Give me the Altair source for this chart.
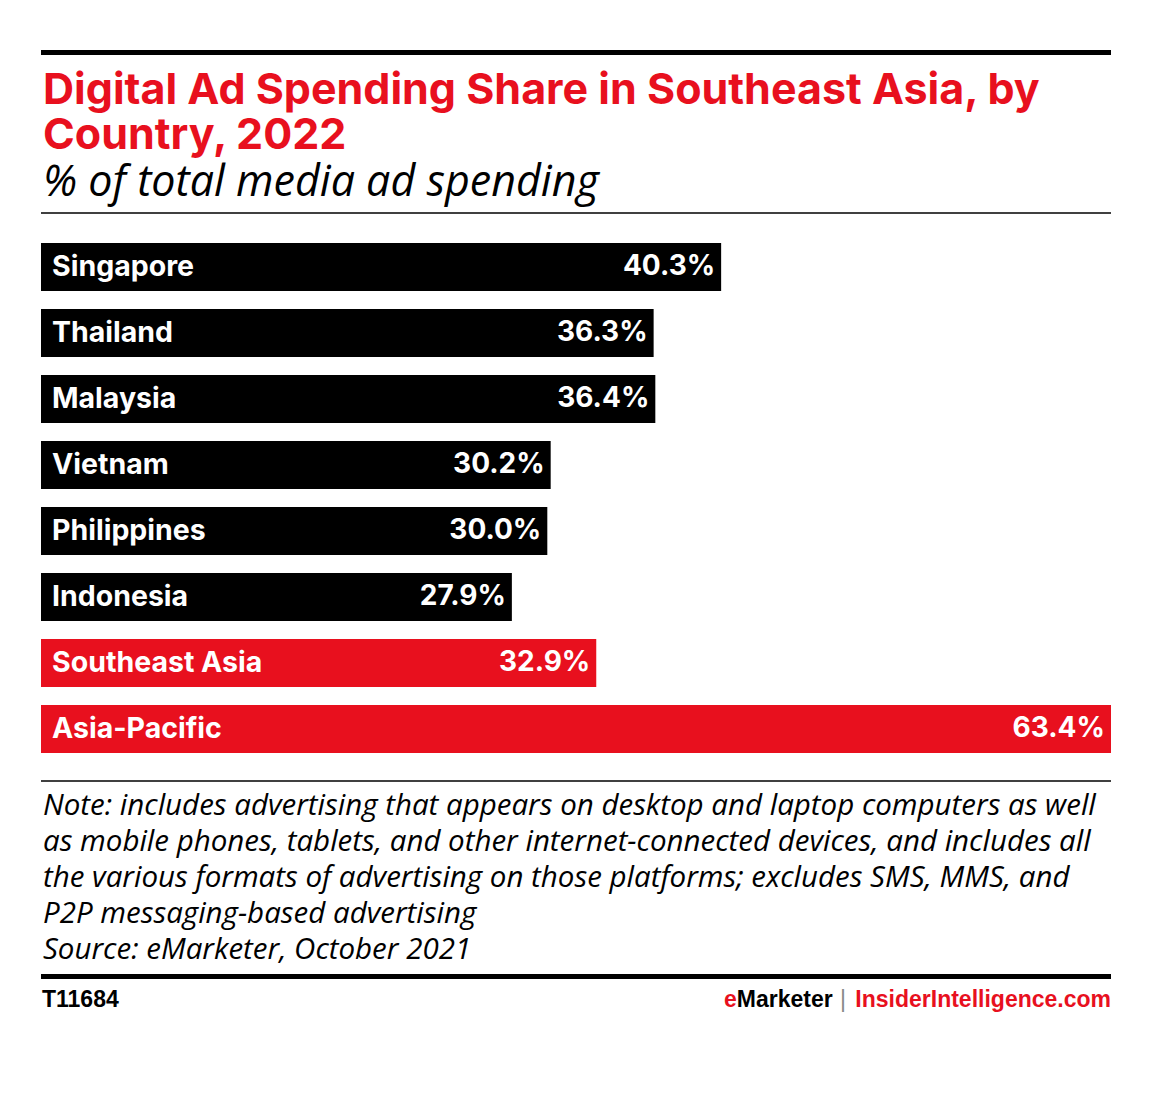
import altair as alt
import pandas as pd

countries = ["Singapore", "Thailand", "Malaysia", "Vietnam", "Philippines",
             "Indonesia", "Southeast Asia", "Asia-Pacific"]
values = [40.3, 36.3, 36.4, 30.2, 30.0, 27.9, 32.9, 63.4]
groups = ["country"] * 6 + ["region"] * 2

title_lines = ["Digital Ad Spending Share in Southeast Asia, by", "Country, 2022"]
subtitle = "% of total media ad spending"
note_lines = [
    "Note: includes advertising that appears on desktop and laptop computers as well",
    "as mobile phones, tablets, and other internet-connected devices, and includes all",
    "the various formats of advertising on those platforms; excludes SMS, MMS, and",
    "P2P messaging-based advertising",
    "Source: eMarketer, October 2021",
]
footer_left = "T11684"
footer_brand = "eMarketer"
footer_site = "InsiderIntelligence.com"

RED = "#E8101E"
W = 1070
H = 528

df = pd.DataFrame({"country": countries, "value": values, "group": groups})

y_enc = alt.Y("country:N", sort=countries, axis=None,
              scale=alt.Scale(paddingInner=0.2727, paddingOuter=0.13636))
x_scale = alt.Scale(domain=[0, 63.4], nice=False, zero=True)

bars = alt.Chart(df).mark_bar(cornerRadius=0).encode(
    x=alt.X("value:Q", scale=x_scale, axis=None),
    y=y_enc,
    color=alt.Color("group:N", scale=alt.Scale(domain=["country", "region"], range=["#000000", RED]), legend=None),
)

name_labels = alt.Chart(df).mark_text(
    align="left", baseline="middle", font="Inter", fontWeight="bold", fontSize=28.5, color="white"
).encode(
    x=alt.value(11),
    y=y_enc,
    text="country:N",
)

value_labels = alt.Chart(df).transform_calculate(
    label="format(datum.value, '.1f') + '%'"
).mark_text(
    align="right", baseline="middle", dx=-6, font="Inter", fontWeight="bold", fontSize=28, color="white"
).encode(
    x=alt.X("value:Q", scale=x_scale, axis=None),
    y=y_enc,
    text="label:N",
)

def txt(s, x, y, **kw):
    return alt.Chart(pd.DataFrame({"t": [s]})).mark_text(**kw).encode(
        text="t:N", x=alt.value(x), y=alt.value(y))

def rule(y, width, color="black"):
    return alt.Chart(pd.DataFrame({"a": [0]})).mark_rule(color=color, strokeWidth=width).encode(
        x=alt.value(0), x2=alt.value(W), y=alt.value(y))

oy = 234  # plot top in page
title = txt("\n".join(title_lines), 2, 104 - oy, align="left", baseline="alphabetic", font="Inter",
            fontWeight="bold", fontSize=43, color=RED, lineBreak="\n", lineHeight=45)
sub = txt(subtitle, 2, 196 - oy, align="left", baseline="alphabetic", font="Open Sans",
          fontStyle="italic", fontSize=43, color="black")
notes = txt("\n".join(note_lines), 2, 815 - oy, align="left", baseline="alphabetic",
            font="Open Sans", fontStyle="italic", fontSize=29.5,
            color="black", lineBreak="\n", lineHeight=36)

FF = "Liberation Sans"
FS = 23
foot_l = txt(footer_left, 1, 1007 - oy, align="left", baseline="alphabetic", font=FF,
             fontWeight="bold", fontSize=FS, color="black")
foot_site = txt(footer_site, W, 1007 - oy, align="right", baseline="alphabetic", font=FF,
                fontWeight="bold", fontSize=FS, color=RED)
foot_bar = txt("|", 802, 1007 - oy, align="center", baseline="alphabetic", font=FF,
               fontSize=FS, color="#888888")
e_x = 683
foot_e = txt(footer_brand[0], e_x, 1007 - oy, align="left", baseline="alphabetic", font=FF,
             fontWeight="bold", fontSize=FS, color=RED)
foot_brand = txt(footer_brand[1:], e_x + 0.556 * FS, 1007 - oy, align="left", baseline="alphabetic",
                 font=FF, fontWeight="bold", fontSize=FS, color="black")

chart = alt.layer(
    rule(52.5 - oy, 5), title, sub, rule(213 - oy, 1.5),
    bars, name_labels, value_labels,
    rule(781 - oy, 1.5), notes, rule(976.5 - oy, 5),
    foot_l, foot_e, foot_brand, foot_bar, foot_site,
).properties(
    width=W, height=H,
    autosize=alt.AutoSizeParams(type="none"),
    padding={"left": 33, "top": 226, "right": 50, "bottom": 320},
).configure_view(stroke=None)

chart.save("out.html", embed_options={"renderer": "svg", "actions": False})
